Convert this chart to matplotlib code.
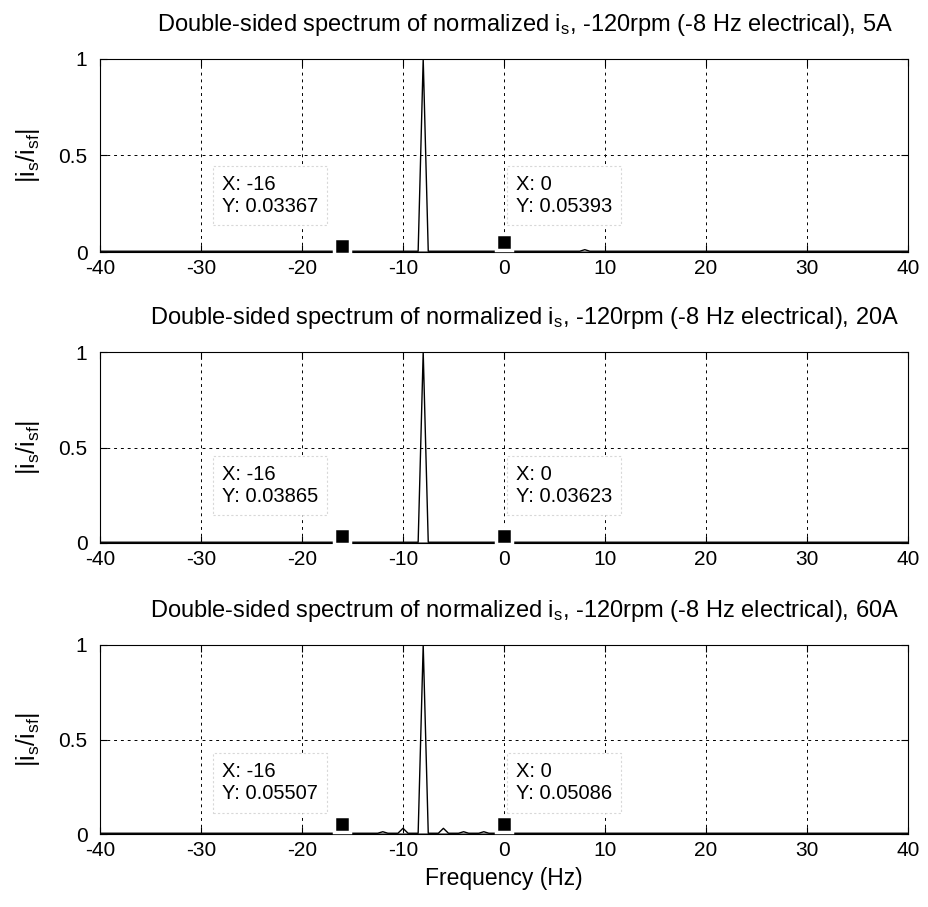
import matplotlib
matplotlib.use("Agg")
import matplotlib.pyplot as plt

plt.rcParams['font.family'] = ['Liberation Sans', 'DejaVu Sans']
plt.rcParams['mathtext.default'] = 'regular'
plt.rcParams['axes.unicode_minus'] = False

# panel currents
currents = ['5A', '20A', '60A']

# spectrum points (Hz, |is/isf|) for each panel
freq_5A = [-40, -16.5, -16, -15.5, -8.5, -8, -7.5, -0.5, 0, 0.5, 7.5, 8, 8.5, 40]
mag_5A = [0.004, 0.004, 0.03367, 0.004, 0.004, 1.0, 0.004, 0.004, 0.05393, 0.004, 0.004, 0.012, 0.004, 0.004]

freq_20A = [-40, -16.5, -16, -15.5, -8.5, -8, -7.5, -0.5, 0, 0.5, 40]
mag_20A = [0.004, 0.004, 0.03865, 0.004, 0.004, 1.0, 0.004, 0.004, 0.03623, 0.004, 0.004]

freq_60A = [-40, -16.5, -16, -15.5, -12.5, -12, -11.5, -10.5, -10, -9.5, -8.5, -8, -7.5,
            -6.5, -6, -5.5, -4.5, -4, -3.5, -2.5, -2, -1.5, -0.5, 0, 0.5, 40]
mag_60A = [0.004, 0.004, 0.05507, 0.004, 0.004, 0.012, 0.004, 0.004, 0.03, 0.004, 0.004, 1.0, 0.004,
           0.004, 0.03, 0.004, 0.004, 0.012, 0.004, 0.004, 0.012, 0.004, 0.004, 0.05086, 0.004, 0.004]

# data tips: (x, y) pairs
tips_5A = [(-16, 0.03367), (0, 0.05393)]
tips_20A = [(-16, 0.03865), (0, 0.03623)]
tips_60A = [(-16, 0.05507), (0, 0.05086)]

freqs = [freq_5A, freq_20A, freq_60A]
mags = [mag_5A, mag_20A, mag_60A]
tips = [tips_5A, tips_20A, tips_60A]

W, H = 929, 907
fig = plt.figure(figsize=(W / 100, H / 100), dpi=100)

# axes pixel boxes (top, bottom)
boxes = [(59, 252), (352, 543), (645, 834)]
tip_y = [0.295, 0.30, 0.27]
left, right = 100, 908

for i in range(3):
    top, bot = boxes[i]
    ax = fig.add_axes([left / W, 1 - bot / H, (right - left) / W, (bot - top) / H])
    ax.plot(freqs[i], mags[i], color='black', lw=1, zorder=3)
    ax.axhline(0.002, color='#777777', lw=2, zorder=2)
    for (tx, ty) in tips[i]:
        ax.plot(tx, ty, marker='s', ms=11, mfc='black', mec='white', mew=2.5,
                zorder=4, clip_on=False)
    ax.set_xlim(-40, 40)
    ax.set_ylim(0, 1)
    ax.set_xticks(range(-40, 41, 10))
    ax.set_yticks([0, 0.5, 1])
    ax.set_yticklabels(['0', '0.5', '1'])
    ax.tick_params(direction='in', top=True, right=True, labelsize=15, length=5)
    ax.tick_params(axis='x', pad=5)
    ax.tick_params(axis='y', pad=9)
    ax.grid(True, color='black', linestyle=(0, (3, 4)), lw=0.7)
    for sp in ax.spines.values():
        sp.set_linewidth(0.8)
    ax.set_title(r'Double-sided spectrum of normalized $i_s$, -120rpm (-8 Hz electrical), '
                 + currents[i], fontsize=17, pad=20, x=0.526)
    ax.set_ylabel(r'$|i_s/i_{sf}|$', fontsize=18, labelpad=12)
    # data tip boxes
    for (tx, ty), xf in zip(tips[i], [0.151, 0.515]):
        ax.text(xf, tip_y[i], f'X: {tx}\nY: {ty:.5f}',
                transform=ax.transAxes, fontsize=14.5, va='center', ha='left',
                linespacing=1.2, zorder=5,
                bbox=dict(boxstyle='square,pad=0.45', facecolor='white',
                          edgecolor='#d8d8d8', linestyle=(0, (2, 2)), lw=0.8))
    if i == 2:
        ax.set_xlabel('Frequency (Hz)', fontsize=16.5, labelpad=5)

fig.savefig('out.png', dpi=100, facecolor='white')
